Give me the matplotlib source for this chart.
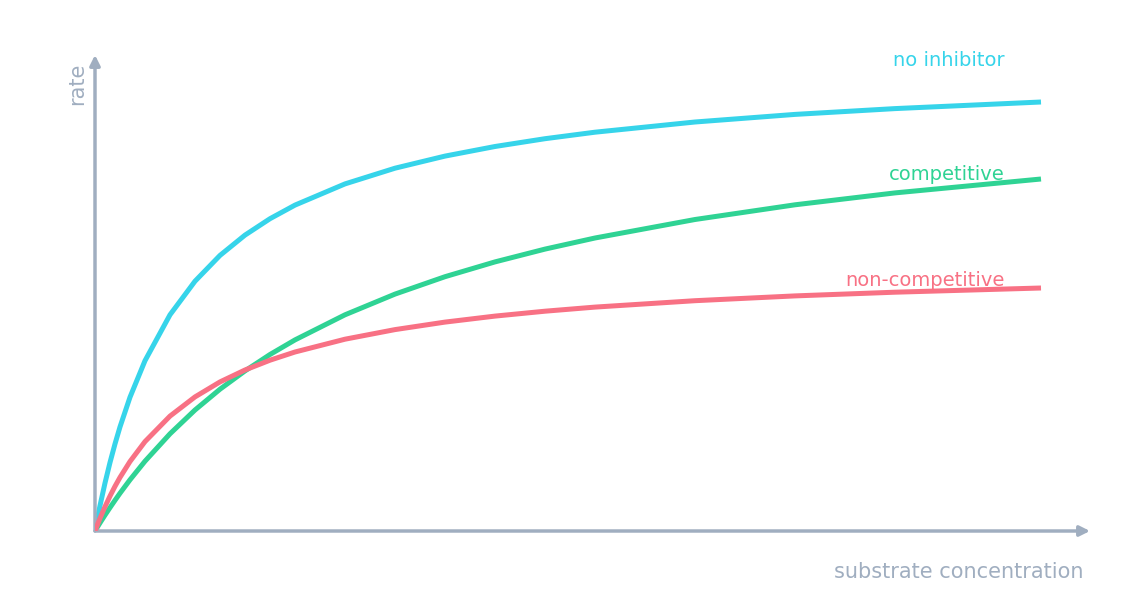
import matplotlib
matplotlib.use("Agg")
import matplotlib.pyplot as plt

conc = [0, 5, 10, 15, 20, 25, 35, 50, 75, 100, 125, 150, 175, 200, 250, 300, 350, 400, 450, 500, 600, 700, 800, 946]
no_inhibitor = [0, 25.3, 48.0, 68.5, 87.1, 104.1, 133.8, 170.3, 216.2, 249.8, 275.6, 295.9, 312.3, 325.9, 347.1, 362.8, 374.9, 384.5, 392.3, 398.8, 409.0, 416.6, 422.4, 429]
competitive = [0, 8.1, 15.9, 23.4, 30.7, 37.8, 51.2, 69.8, 97.2, 121.0, 141.8, 160.1, 176.5, 191.1, 216.2, 236.9, 254.3, 269.1, 281.9, 293.0, 311.5, 326.2, 338.1, 352]
non_competitive = [0, 12.8, 24.3, 34.9, 44.7, 53.6, 69.5, 89.4, 114.9, 134.1, 149.1, 161.0, 170.8, 179.0, 191.8, 201.4, 208.9, 214.9, 219.8, 223.9, 230.3, 235.1, 238.8, 243]

W, H = 1146, 606
fig = plt.figure(figsize=(W/100, H/100), dpi=100)
ax = fig.add_axes([95/W, (H-531)/H, 995/W, 476/H])
ax.set_xlim(0, 995)
ax.set_ylim(0, 476)
ax.axis('off')

gray = '#a0aec0'
blue, green, red = '#36d4ea', '#2fd394', '#f87184'
ax.plot(conc, competitive, color=green, lw=3.6, solid_capstyle='butt', solid_joinstyle='round', zorder=3)
ax.plot(conc, non_competitive, color=red, lw=3.6, solid_capstyle='butt', solid_joinstyle='round', zorder=4)
ax.plot(conc, no_inhibitor, color=blue, lw=3.6, solid_capstyle='butt', solid_joinstyle='round', zorder=2)

ax.annotate('', xy=(995, 0), xytext=(0, 0), xycoords='data',
            arrowprops=dict(arrowstyle='-|>,head_length=0.6,head_width=0.3', color=gray, lw=2.5, shrinkA=0, shrinkB=0), annotation_clip=False)
ax.annotate('', xy=(0, 476), xytext=(0, 0), xycoords='data',
            arrowprops=dict(arrowstyle='-|>,head_length=0.6,head_width=0.3', color=gray, lw=2.5, shrinkA=0, shrinkB=0), annotation_clip=False)

fig.text(1005/W, 1-60/H, 'no inhibitor', color=blue, fontsize=14, ha='right', va='center')
fig.text(1005/W, 1-174/H, 'competitive', color=green, fontsize=14, ha='right', va='center')
fig.text(1005/W, 1-280/H, 'non-competitive', color=red, fontsize=14, ha='right', va='center')
fig.text(1083/W, 1-572/H, 'substrate concentration', color=gray, fontsize=15, ha='right', va='center')
fig.text(77/W, 1-84/H, 'rate', color=gray, fontsize=15, ha='center', va='center', rotation=90)

fig.savefig('out.png', dpi=100)
